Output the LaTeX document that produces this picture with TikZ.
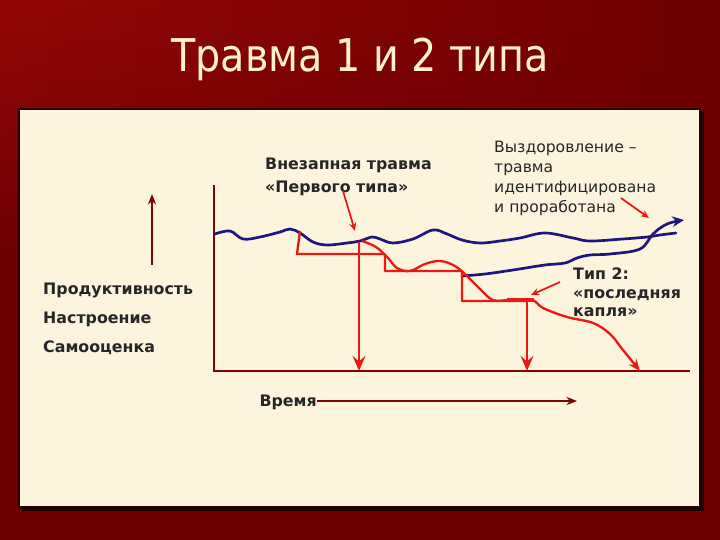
\documentclass[tikz,border=0pt]{standalone}
\usepackage{fontspec}
\setmainfont{DejaVu Sans}
\newfontfamily\titlefont[FakeStretch=0.88]{DejaVu Sans}
\usepackage{tikz}
\usetikzlibrary{arrows.meta, positioning, fadings}

\definecolor{slidered}{RGB}{110,0,0}
\definecolor{slidetop}{RGB}{150,8,8}
\definecolor{slidecream}{RGB}{253,244,222}
\definecolor{titlecream}{RGB}{255,240,205}
\definecolor{axisred}{RGB}{125,5,5}
\definecolor{curvered}{RGB}{235,25,20}
\definecolor{wavenavy}{RGB}{30,22,128}

\begin{document}
\begin{tikzpicture}[x=0.03cm, y=-0.03cm,
        lbl/.style={font=\bfseries\fontsize{13.5}{16}\selectfont, inner sep=0pt, text=black!85},
        note/.style={font=\fontsize{13.3}{17}\selectfont, inner sep=0pt, align=left, text=black!85},
        axis/.style={axisred, line width=2.4pt},
        wave/.style={wavenavy, line width=2.3pt, line cap=round, line join=round},
        fall/.style={curvered, line width=2pt, line join=round},
        drop/.style={curvered, line width=2pt, -{Stealth[length=13pt, width=11pt, inset=5pt]}},
        pointer/.style={curvered, line width=1.5pt, -{Stealth[length=7pt, width=6pt]}}]

    \useasboundingbox (0,0) rectangle (720,540);

    % slide background
    \fill[slidered] (0,0) rectangle (720,540);
    \shade[left color=slidetop, right color=slidered, path fading=south] (0,0) rectangle (720,260);

    % cream panel with shadow
    \fill[black!70!slidered] (22,112) rectangle (704,511);
    \fill[slidecream] (19,109) rectangle (700,507);
    \draw[black!60!slidered, line width=1pt] (19,109) rectangle (700,507);

    % title
    \node[text=titlecream, font=\titlefont\fontsize{38.5}{44}\selectfont] (title) at (360,59) {Травма 1 и 2 типа};

    % axes
    \coordinate (origin) at (214,371);
    \coordinate (ytop) at (214,185);
    \coordinate (xend) at (690,371);
    \draw[axis] (ytop) -- (origin) -- (xend);

    % upward arrow
    \coordinate (upbot) at (152,265);
    \coordinate (uptop) at (152,194);
    \draw[axis, line width=2pt, -{Stealth[length=9pt, width=7pt]}] (upbot) -- (uptop);

    % left labels
    \node[lbl, anchor=base west] (prod) at (43,295) {Продуктивность};
    \node[lbl, below=24pt of prod.base west, anchor=base west] (mood) {Настроение};
    \node[lbl, below=25.5pt of mood.base west, anchor=base west] (self) {Самооценка};

    % time label and arrow
    \node[lbl, anchor=base east] (time) at (317,406) {Время};
    \coordinate (tend) at (577,401);
    \draw[axis, line width=2pt, -{Stealth[length=9pt, width=7pt]}] (time.east |- tend) -- (tend);

    % upper wave
    \draw[wave] plot[smooth, tension=0.6] coordinates {(215,234) (230,231) (243,239) (260,237)
        (280,232) (290,229) (300,233) (313,242) (327,245) (347,243) (360,241) (372,237)
        (380,239) (393,243) (413,239) (433,230) (447,234) (462,240) (480,243) (500,241)
        (520,238) (545,233) (573,238) (590,241) (623,239) (647,237) (660,235) (676,233)};

    % recovery wave
    \draw[wave, -{Stealth[length=10pt, width=9pt]}] plot[smooth, tension=0.6] coordinates {(462,276)
        (485,274) (513,270) (545,265) (565,263) (577,258) (590,255) (610,254) (640,249)
        (653,234) (667,224) (684,220)};

    % steps
    \draw[fall] (300,231) -- (297,254) -- (385,254) -- (385,271) -- (462,271) -- (462,301) -- (528,301);
    \draw[fall, line width=3.5pt] (507,300) -- (534,300);

    % falling curve
    \draw[fall, -{Stealth[length=10pt, width=8pt, inset=3pt]}] plot[smooth, tension=0.6] coordinates {(362,241)
        (376,247) (388,258) (397,268) (410,271) (425,264) (440,261) (455,266) (468,277)
        (480,289) (493,300) (510,300) (532,300) (543,308) (567,317) (593,323) (610,334)
        (623,350) (640,371)};

    % drops to the time axis
    \coordinate (drop1) at (359,242);
    \coordinate (hit1) at (359,371);
    \coordinate (drop2) at (527,301);
    \coordinate (hit2) at (527,371);
    \draw[drop] (drop1) -- (hit1);
    \draw[drop] (drop2) -- (hit2);

    % annotations
    \node[lbl, align=left, anchor=north west, font=\bfseries\fontsize{13.5}{19.5}\selectfont] (sudden) at (265,158)
        {Внезапная травма\\«Первого типа»};
    \node[note, anchor=north west] (recovery) at (494,141)
        {Выздоровление –\\травма\\идентифицирована\\и проработана};
    \node[lbl, align=left, anchor=north west, font=\bfseries\fontsize{13.5}{15.8}\selectfont] (type2) at (573,268)
        {Тип 2:\\«последняя\\капля»};

    % pointers
    \coordinate (p1) at (355,231);
    \coordinate (p2) at (649,218);
    \coordinate (p3) at (531,295);
    \draw[pointer] (343,191) -- (p1);
    \draw[pointer] (621,198) -- (p2);
    \draw[pointer] (560,282) -- (p3);
\end{tikzpicture}
\end{document}
